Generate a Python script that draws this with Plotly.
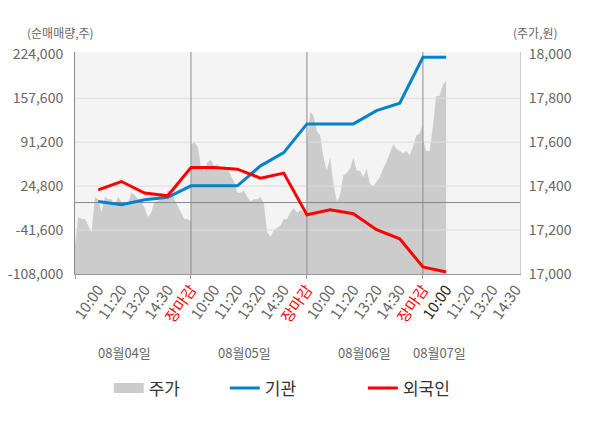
import plotly.graph_objects as go

# ---------------- data ----------------
day_labels = ["08월04일", "08월05일", "08월06일", "08월07일"]
slot_labels = ["10:00", "11:20", "13:20", "14:30", "장마감"]

# 주가 (price, 원) sampled evenly through each trading day
price_d1 = [17130, 17260, 17250, 17250, 17220, 17190, 17350, 17340, 17280, 17350,
            17340, 17340, 17310, 17350, 17330, 17310, 17320, 17370, 17360, 17340,
            17330, 17300, 17260, 17280, 17330, 17330, 17350, 17340, 17380, 17380,
            17340, 17310, 17280, 17250, 17250, 17240]
price_d2 = [17590, 17600, 17580, 17490, 17470, 17510, 17520, 17490, 17500, 17480,
            17490, 17480, 17450, 17420, 17370, 17370, 17380, 17350, 17330, 17340,
            17340, 17350, 17320, 17190, 17170, 17200, 17210, 17220, 17250, 17250,
            17280, 17300, 17280, 17290, 17280, 17290]
price_d3 = [17600, 17740, 17720, 17650, 17630, 17530, 17470, 17530, 17410, 17330,
            17360, 17450, 17460, 17480, 17530, 17470, 17470, 17440, 17480, 17410,
            17400, 17420, 17440, 17480, 17510, 17550, 17590, 17570, 17560, 17550,
            17560, 17540, 17580, 17630, 17640, 17680]
price_d4 = [17610, 17560, 17560, 17670, 17810, 17810, 17860, 17880]
price_days = [price_d1, price_d2, price_d3, price_d4]
samples_per_day = 36

# 순매매량 (주) at each labelled time slot, from 08/04 10:00 to 08/07 10:00
inst = [1560, -3420, 4130, 8000, 25250, 25250, 25250, 55440, 75510, 118820,
        118820, 118820, 138890, 150060, 219480, 219480]
foreign = [19220, 31740, 14240, 10160, 52870, 52870, 50460, 36870, 44420, -18510,
           -10970, -17000, -41150, -54730, -97440, -104980]

left_ticks = [-108000, -41600, 24800, 91200, 157600, 224000]
right_ticks = [17000, 17200, 17400, 17600, 17800, 18000]

# ---------------- geometry helpers ----------------
n_days = len(day_labels)
n_slots = len(slot_labels)
slot_x = [d + (k + 1) / n_slots for d in range(n_days) for k in range(n_slots)]
slot_text = []
for d in range(n_days):
    for k, s in enumerate(slot_labels):
        if k == n_slots - 1:
            slot_text.append('<span style="color:#ff0000">%s</span>' % s)
        elif d == n_days - 1 and k == 0:
            slot_text.append('<span style="color:#222222">%s</span>' % s)
        else:
            slot_text.append(s)

px_x, px_y = [], []
for d, arr in enumerate(price_days):
    for i, v in enumerate(arr):
        px_x.append(d + i / (samples_per_day - 1))
        px_y.append(v)

line_x = slot_x[:len(inst)]

x_range = [0.0, 3.837]
l_range = [left_ticks[0], 227500]
r_range = [right_ticks[0],
           right_ticks[0] + (l_range[1] - l_range[0]) / (left_ticks[-1] - left_ticks[0])
           * (right_ticks[-1] - right_ticks[0])]


def left_to_right(v):
    return r_range[0] + (v - l_range[0]) / (l_range[1] - l_range[0]) * (r_range[1] - r_range[0])


# ---------------- figure ----------------
fig = go.Figure()

# price area (main, right-side axis)
fig.add_trace(go.Scatter(x=px_x, y=px_y, mode="lines", line=dict(width=0, color="#cccccc"),
                         fill="tozeroy", fillcolor="#cccccc", showlegend=False,
                         hoverinfo="skip", xaxis="x", yaxis="y"))

# grid lines drawn above the area
gx, gy = [], []
for t in right_ticks[1:-1]:
    gx += [x_range[0], x_range[1], None]
    gy += [t, t, None]
fig.add_trace(go.Scatter(x=gx, y=gy, mode="lines", line=dict(width=1, color="#dddddd"),
                         showlegend=False, hoverinfo="skip", yaxis="y"))

# zero line of net volume + day separators
z = left_to_right(0)
fig.add_trace(go.Scatter(x=x_range, y=[z, z], mode="lines", line=dict(width=1, color="#888888"),
                         showlegend=False, hoverinfo="skip", yaxis="y"))
vx, vy = [], []
for d in range(1, n_days):
    vx += [d, d, None]
    vy += [r_range[0], r_range[1], None]
fig.add_trace(go.Scatter(x=vx, y=vy, mode="lines", line=dict(width=1, color="#8c8c8c"),
                         showlegend=False, hoverinfo="skip", yaxis="y"))

# legend proxy for price
fig.add_trace(go.Scatter(x=[None], y=[None], mode="lines", name="주가",
                         line=dict(width=14, color="#cccccc"), legend="legend", yaxis="y"))

# net buy lines (overlay, left axis)
fig.add_trace(go.Scatter(x=line_x, y=inst, mode="lines", name="기관",
                         line=dict(width=3, color="#0582cc"), legend="legend2",
                         hoverinfo="skip", yaxis="y2"))
fig.add_trace(go.Scatter(x=line_x, y=foreign, mode="lines", name="외국인",
                         line=dict(width=3, color="#ff0000"), legend="legend3",
                         hoverinfo="skip", yaxis="y2"))

FONT = "Noto Sans CJK KR"

annotations = []
date_pos = [0.428, 1.46, 2.50, 3.147]
for xp, lab in zip(date_pos, day_labels):
    annotations.append(dict(x=xp, y=-0.354, xref="x", yref="paper", text=lab, showarrow=False,
                            font=dict(size=13, color="#666666", family=FONT),
                            xanchor="center", yanchor="middle"))
annotations.append(dict(x=-0.0315, y=1.087, xref="paper", yref="paper", text="(순매매량,주)",
                        showarrow=False, font=dict(size=12, color="#666666", family=FONT),
                        xanchor="center", yanchor="middle"))
annotations.append(dict(x=1.035, y=1.087, xref="paper", yref="paper", text="(주가,원)",
                        showarrow=False, font=dict(size=12, color="#666666", family=FONT),
                        xanchor="center", yanchor="middle"))

leg_common = dict(orientation="h", xanchor="left", yanchor="middle", y=-0.515,
                  font=dict(size=17, color="#333333", family=FONT),
                  bgcolor="rgba(0,0,0,0)", borderwidth=0)

# the page body adds an 8px offset at the top-left, so the figure is 8px smaller
fig.update_layout(
    width=592, height=420,
    margin=dict(l=67, r=80, t=44, b=154, autoexpand=False),
    paper_bgcolor="#ffffff",
    plot_bgcolor="#f4f4f4",
    font=dict(family=FONT, color="#666666"),
    showlegend=True,
    legend=dict(x=(109 - 75.3) / 444.7, **leg_common),
    legend2=dict(x=(225 - 75.3) / 444.7, **leg_common),
    legend3=dict(x=(363 - 75.3) / 444.7, **leg_common),
    xaxis=dict(range=x_range, tickmode="array", tickvals=slot_x, ticktext=slot_text,
               tickangle=-55, tickfont=dict(size=15, color="#666666"), ticks="",
               showgrid=False, zeroline=False, showline=True, linecolor="#999999",
               automargin=False,
               minor=dict(tickmode="array", tickvals=list(range(n_days)), ticks="outside",
                          ticklen=4, tickcolor="#999999", showgrid=False)),
    yaxis=dict(range=r_range, side="right", tickmode="array", tickvals=right_ticks,
               ticktext=[f"{t:,}" for t in right_ticks], tickfont=dict(size=14, color="#666666"),
               showgrid=False, zeroline=False, showline=True, linecolor="#cccccc",
               automargin=False,
               ticks="outside", ticklen=5, tickcolor="rgba(0,0,0,0)"),
    yaxis2=dict(range=l_range, side="left", overlaying="y", tickmode="array",
                tickvals=left_ticks, ticktext=[f"{t:,}" for t in left_ticks],
                tickfont=dict(size=14, color="#666666"), showgrid=False, zeroline=False,
                showline=True, linecolor="#888888", automargin=False,
                ticks="outside", ticklen=8, tickcolor="rgba(0,0,0,0)"),
    annotations=annotations,
)

fig.write_html("out.html")
